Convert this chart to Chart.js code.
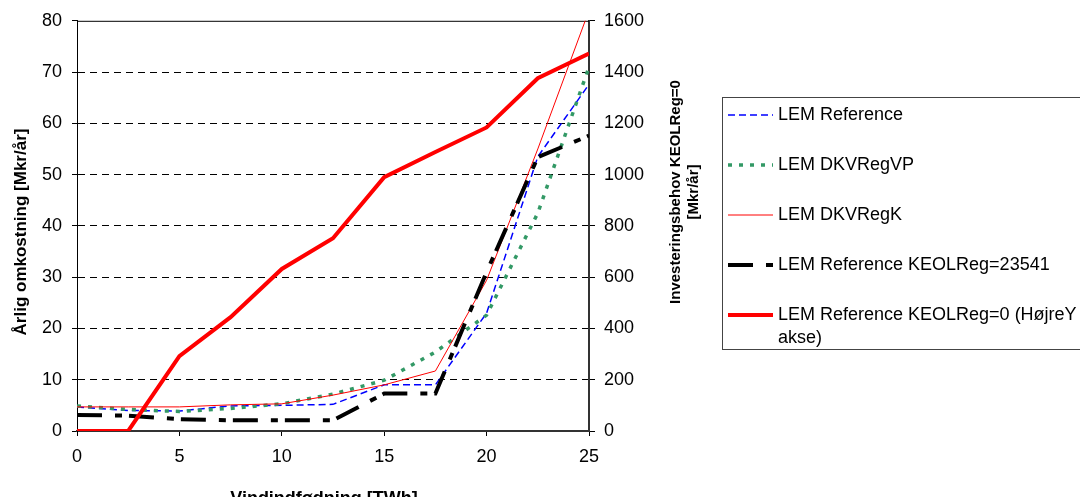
<!DOCTYPE html>
<html>
<head>
<meta charset="utf-8">
<script src="https://cdn.jsdelivr.net/npm/chart.js@4"></script>
<style>
  html, body { margin: 0; padding: 0; background: #fff; }
</style>
</head>
<body>
<canvas id="chart" width="1080" height="497"></canvas>
<script>
// Vindindfødning [TWh] on the x axis
const windTWh = [0, 2.5, 5, 7.5, 10, 12.5, 15, 17.5, 20, 22.5, 25];

// Årlig omkostning [Mkr/år] (left axis)
const lemReference = [4.7, 4.0, 3.9, 4.9, 5.0, 5.2, 9.0, 9.0, 23.0, 53.5, 67.6];
const lemDkvRegVP = [4.9, 4.2, 3.8, 4.4, 5.3, 7.2, 9.9, 15.4, 22.6, 42.5, 71.0];
const lemDkvRegK = [4.7, 4.7, 4.7, 5.1, 5.3, 7.0, 9.0, 11.7, 29.4, 55.0, 82.0];
const lemKeol23541 = [3.1, 3.0, 2.3, 2.1, 2.1, 2.1, 7.3, 7.3, 31.0, 53.4, 57.6];

// Investeringsbehov KEOLReg=0 [Mkr/år] (right axis)
const lemKeol0 = [0, 0, 292, 444, 632, 752, 990, 1088, 1184, 1376, 1472];

const xTicks = [0, 5, 10, 15, 20, 25];
const leftTicks = [0, 10, 20, 30, 40, 50, 60, 70, 80];
const rightTicks = [0, 200, 400, 600, 800, 1000, 1200, 1400, 1600];

const FONT = '"Liberation Sans", Arial, sans-serif';
Chart.defaults.font.family = FONT;
Chart.defaults.color = '#000';

function points(values) {
    return windTWh.map((x, i) => ({ x: x, y: values[i] }));
}

function useTicks(list) {
    return scale => { scale.ticks = list.map(v => ({ value: v })); };
}

// plain numbers, no thousands separator
const plain = v => String(v);

// wraps a legend label into lines no wider than maxWidth
function wrapText(ctx, text, maxWidth) {
    const words = text.split(' ');
    const lines = [];
    let line = '';
    words.forEach(w => {
        const test = line ? line + ' ' + w : w;
        if (line && ctx.measureText(test).width > maxWidth) {
            lines.push(line);
            line = w;
        } else {
            line = test;
        }
    });
    if (line) lines.push(line);
    return lines;
}

const decorations = {
    id: 'decorations',
    beforeDatasetsDraw(chart) {
        const { ctx, chartArea } = chart;
        // top edge of the plot frame
        ctx.save();
        ctx.strokeStyle = '#000';
        ctx.lineWidth = 1;
        ctx.beginPath();
        ctx.moveTo(chartArea.left, chartArea.top + 0.5);
        ctx.lineTo(chartArea.right, chartArea.top + 0.5);
        ctx.stroke();
        ctx.restore();
    },
    afterDraw(chart) {
        const ctx = chart.ctx;
        ctx.save();
        ctx.fillStyle = '#000';
        ctx.textAlign = 'center';
        ctx.textBaseline = 'middle';

        // axis titles
        ctx.font = 'bold 17px ' + FONT;
        ctx.save();
        ctx.translate(21, 232);
        ctx.rotate(-Math.PI / 2);
        ctx.fillText('Årlig omkostning [Mkr/år]', 0, 0);
        ctx.restore();

        ctx.font = 'bold 15px ' + FONT;
        ctx.save();
        ctx.translate(676, 192);
        ctx.rotate(-Math.PI / 2);
        ctx.fillText('Investeringsbehov KEOLReg=0', 0, 0);
        ctx.fillText('[Mkr/år]', 0, 18);
        ctx.restore();

        ctx.font = 'bold 18px ' + FONT;
        ctx.fillText('Vindindfødning [TWh]', 324, 499);

        // legend box
        ctx.strokeStyle = '#444';
        ctx.lineWidth = 1;
        ctx.strokeRect(722.5, 97.5, 420, 252);

        ctx.font = '18px ' + FONT;
        ctx.textAlign = 'left';
        chart.data.datasets.forEach((ds, i) => {
            const y = 115 + i * 50;
            ctx.save();
            ctx.strokeStyle = ds.borderColor;
            ctx.lineWidth = ds.borderWidth;
            ctx.setLineDash(ds.borderDash || []);
            ctx.lineCap = 'butt';
            ctx.beginPath();
            ctx.moveTo(728, y);
            ctx.lineTo(773, y);
            ctx.stroke();
            ctx.restore();
            wrapText(ctx, ds.label, 310).forEach((line, j) => {
                ctx.fillText(line, 778, y + j * 23);
            });
        });
        ctx.restore();
    }
};

new Chart(document.getElementById('chart').getContext('2d'), {
    type: 'line',
    data: {
        datasets: [
            {
                label: 'LEM Reference',
                data: points(lemReference),
                borderColor: '#0000ff',
                borderWidth: 1.5,
                borderDash: [7, 4],
                yAxisID: 'y',
                order: 4
            },
            {
                label: 'LEM DKVRegVP',
                data: points(lemDkvRegVP),
                borderColor: '#339966',
                borderWidth: 3.5,
                borderDash: [4, 7],
                yAxisID: 'y',
                order: 3
            },
            {
                label: 'LEM DKVRegK',
                data: points(lemDkvRegK),
                borderColor: '#ff0000',
                borderWidth: 1,
                yAxisID: 'y',
                order: 2
            },
            {
                label: 'LEM Reference KEOLReg=23541',
                data: points(lemKeol23541),
                borderColor: '#000000',
                borderWidth: 4,
                borderDash: [25, 13, 7, 7],
                yAxisID: 'y',
                order: 1
            },
            {
                label: 'LEM Reference KEOLReg=0 (HøjreY akse)',
                data: points(lemKeol0),
                borderColor: '#ff0000',
                borderWidth: 4,
                yAxisID: 'y1',
                order: 0
            }
        ]
    },
    options: {
        responsive: false,
        animation: false,
        devicePixelRatio: 1,
        layout: { padding: { top: 20, left: 0, right: 0, bottom: 0 } },
        elements: {
            line: { tension: 0, fill: false, borderCapStyle: 'butt' },
            point: { radius: 0, hoverRadius: 0 }
        },
        plugins: {
            legend: { display: false },
            tooltip: { enabled: false }
        },
        scales: {
            x: {
                type: 'linear',
                min: 0,
                max: 25,
                afterBuildTicks: useTicks(xTicks),
                afterFit: s => { s.height = 66; },
                grid: { drawOnChartArea: false, tickLength: 5, color: '#000' },
                border: { color: '#333', width: 2 },
                ticks: { font: { size: 18 }, padding: 10, maxRotation: 0, callback: plain }
            },
            y: {
                position: 'left',
                min: 0,
                max: 80,
                afterBuildTicks: useTicks(leftTicks),
                afterFit: s => { s.width = 77; },
                grid: {
                    color: c => (c.tick && (c.tick.value === 0 || c.tick.value === 80)) ? 'rgba(0,0,0,0)' : '#000',
                    tickColor: '#000',
                    tickLength: 5
                },
                border: { color: '#000', width: 1, dash: [7, 5] },
                ticks: { font: { size: 18 }, padding: 10, callback: plain }
            },
            y1: {
                position: 'right',
                min: 0,
                max: 1600,
                afterBuildTicks: useTicks(rightTicks),
                afterFit: s => { s.width = 491; },
                grid: { drawOnChartArea: false, tickLength: 6, color: '#000' },
                border: { color: '#333', width: 2 },
                ticks: { font: { size: 18 }, padding: 9, callback: plain }
            }
        }
    },
    plugins: [decorations]
});
</script>
</body>
</html>
